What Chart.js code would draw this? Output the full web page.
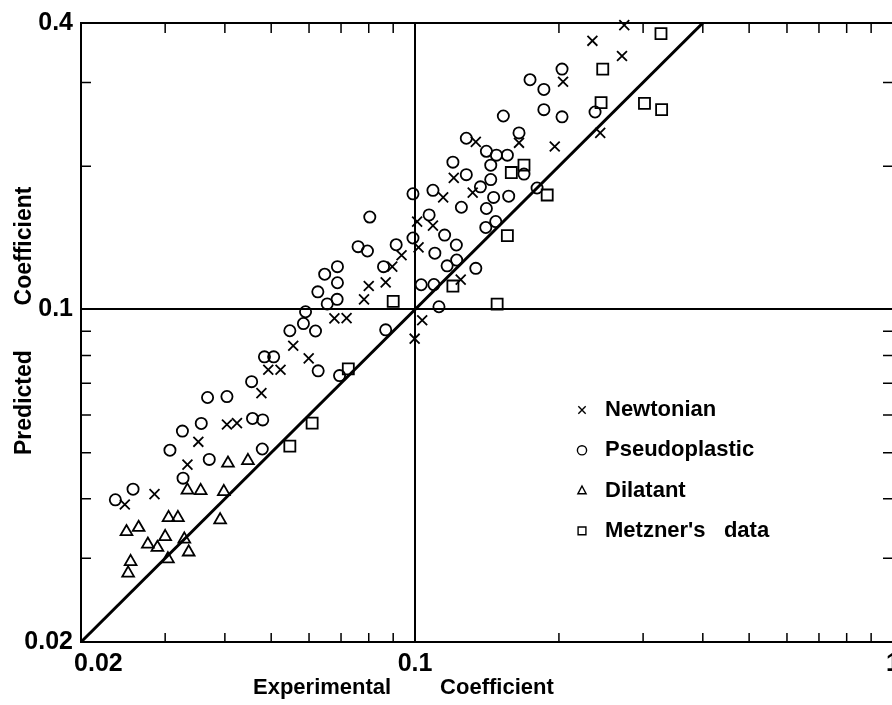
<!DOCTYPE html>
<html>
<head>
<meta charset="utf-8">
<script src="https://cdn.jsdelivr.net/npm/chart.js@4.4.1/dist/chart.umd.min.js"></script>
<style>
  html, body { margin: 0; padding: 0; background: #fff; overflow: hidden; }
  #wrap { width: 920px; height: 705px; }
</style>
</head>
<body>
<div id="wrap"><canvas id="chart" width="920" height="705"></canvas></div>
<script>
// axis ticks
const xMajorTicks = [0.02, 0.1, 1];
const xTickLabels = ["     0.02", "0.1", "1"];
const xMinorTicks = [0.03, 0.04, 0.05, 0.06, 0.07, 0.08, 0.09, 0.2, 0.3, 0.4, 0.5, 0.6, 0.7, 0.8, 0.9];
const yMajorTicks = [0.02, 0.1, 0.4];
const yTickLabels = ["0.02", "0.1", "0.4"];
const yMinorTicks = [0.03, 0.04, 0.05, 0.06, 0.07, 0.08, 0.09, 0.2, 0.3];

const xTitle = "Experimental        Coefficient";
const yTitle = "Predicted       Coefficient";

// Newtonian
const newtonianX = [0.274, 0.235, 0.271, 0.204, 0.244, 0.165, 0.196, 0.134, 0.1205, 0.132, 0.1145, 0.101, 0.109, 0.1017, 0.0937, 0.0896, 0.0868, 0.0800, 0.0782, 0.1246, 0.1035, 0.0998, 0.0678, 0.0719, 0.0556, 0.0599, 0.0493, 0.0523, 0.0477, 0.0404, 0.0424, 0.0352, 0.0334, 0.0285, 0.0247];
const newtonianY = [0.396, 0.367, 0.341, 0.301, 0.235, 0.224, 0.220, 0.225, 0.189, 0.176, 0.172, 0.153, 0.150, 0.135, 0.130, 0.123, 0.114, 0.112, 0.105, 0.1155, 0.0949, 0.0868, 0.0958, 0.0959, 0.0839, 0.0789, 0.0747, 0.0747, 0.0667, 0.0573, 0.0577, 0.0527, 0.0472, 0.0409, 0.0389];

// Pseudoplastic
const pseudoX = [0.203, 0.174, 0.186, 0.186, 0.203, 0.153, 0.238, 0.165, 0.128, 0.141,
  0.148, 0.156, 0.120, 0.144, 0.128, 0.169, 0.144, 0.137, 0.109, 0.099,
  0.146, 0.157, 0.180, 0.125, 0.141, 0.107, 0.1475, 0.1406, 0.1153, 0.099,
  0.0913, 0.122, 0.110, 0.1222, 0.1167, 0.0859, 0.134, 0.103, 0.1095, 0.1122,
  0.0868, 0.0804, 0.076, 0.0795, 0.0688, 0.0647, 0.0688, 0.0626, 0.0655, 0.0687,
  0.059, 0.0584, 0.0547, 0.0619, 0.0484, 0.0506, 0.0627, 0.0695, 0.0455, 0.0457,
  0.048, 0.0368, 0.0404, 0.0357, 0.0326, 0.0307, 0.0371, 0.0479, 0.0327, 0.0257,
  0.0236];
const pseudoY = [0.320, 0.304, 0.290, 0.263, 0.254, 0.255, 0.260, 0.235, 0.229, 0.215,
  0.211, 0.211, 0.204, 0.201, 0.192, 0.1925, 0.1875, 0.181, 0.178, 0.175,
  0.172, 0.173, 0.180, 0.164, 0.163, 0.158, 0.153, 0.1487, 0.1433, 0.1413,
  0.1368, 0.1366, 0.1313, 0.127, 0.1235, 0.123, 0.122, 0.1127, 0.1128, 0.1013,
  0.0906, 0.1564, 0.1355, 0.1327, 0.123, 0.1186, 0.1138, 0.1089, 0.1027, 0.105,
  0.0989, 0.0934, 0.0902, 0.0901, 0.0795, 0.0795, 0.0743, 0.0726, 0.0705, 0.059,
  0.0586, 0.0653, 0.0656, 0.0576, 0.0555, 0.0506, 0.0484, 0.0509, 0.0442, 0.0419,
  0.0398];

// Dilatant
const dilatantX = [0.0406, 0.0447, 0.0334, 0.0356, 0.0398, 0.0305, 0.0319, 0.0391, 0.0249, 0.0264, 0.0300, 0.0276, 0.0289, 0.0329, 0.0336, 0.0304, 0.0254, 0.0251];
const dilatantY = [0.0475, 0.0481, 0.0417, 0.0416, 0.0414, 0.0365, 0.0365, 0.0361, 0.0341, 0.0348, 0.0333, 0.0321, 0.0316, 0.0329, 0.0309, 0.0299, 0.0295, 0.0279];

// Metzner's data
const metznerX = [0.327, 0.247, 0.245, 0.302, 0.328, 0.169, 0.159, 0.189, 0.156, 0.120, 0.1485, 0.0900, 0.0725, 0.0609, 0.0547];
const metznerY = [0.380, 0.320, 0.272, 0.271, 0.263, 0.201, 0.194, 0.174, 0.143, 0.112, 0.1026, 0.104, 0.0750, 0.0577, 0.0516];

// predicted = experimental
const lineX = [0.02, 0.4];
const lineY = [0.02, 0.4];

const FONT = '"Liberation Sans", Arial, sans-serif';

function pts(xs, ys) {
  return xs.map((x, i) => ({ x: x, y: ys[i] }));
}

function drawMarker(ctx, style, x, y, r) {
  ctx.beginPath();
  if (style === "crossRot") {
    const d = r * 0.8;
    ctx.moveTo(x - d, y - d); ctx.lineTo(x + d, y + d);
    ctx.moveTo(x + d, y - d); ctx.lineTo(x - d, y + d);
  } else if (style === "circle") {
    ctx.arc(x, y, r, 0, Math.PI * 2);
  } else if (style === "triangle") {
    ctx.moveTo(x, y - r);
    ctx.lineTo(x + r * 0.9, y + r * 0.7);
    ctx.lineTo(x - r * 0.9, y + r * 0.7);
    ctx.closePath();
  } else if (style === "rect") {
    ctx.rect(x - r * 0.85, y - r * 0.85, r * 1.7, r * 1.7);
  }
  ctx.stroke();
}

const framePlugin = {
  id: "frame",
  afterDraw(chart) {
    const { ctx, chartArea: a, scales } = chart;
    ctx.save();
    ctx.strokeStyle = "#000";
    ctx.fillStyle = "#000";

    // box
    ctx.lineWidth = 2;
    ctx.strokeRect(a.left, a.top, a.right - a.left, a.bottom - a.top);

    // inward minor ticks on all four sides
    ctx.lineWidth = 1.5;
    ctx.beginPath();
    xMinorTicks.forEach(v => {
      const px = scales.x.getPixelForValue(v);
      ctx.moveTo(px, a.bottom); ctx.lineTo(px, a.bottom - 9);
      ctx.moveTo(px, a.top); ctx.lineTo(px, a.top + 10);
    });
    yMinorTicks.forEach(v => {
      const py = scales.y.getPixelForValue(v);
      ctx.moveTo(a.left, py); ctx.lineTo(a.left + 10, py);
      ctx.moveTo(a.right, py); ctx.lineTo(a.right - 10, py);
    });
    ctx.stroke();

    // axis titles
    ctx.font = "bold 22px " + FONT;
    ctx.textAlign = "left";
    ctx.textBaseline = "alphabetic";
    ctx.fillText(xTitle, 253, 694);

    ctx.save();
    ctx.font = "bold 23px " + FONT;
    ctx.translate(31, 455);
    ctx.rotate(-Math.PI / 2);
    ctx.fillText(yTitle, 0, 0);
    ctx.restore();

    // legend
    ctx.font = "bold 22px " + FONT;
    ctx.textBaseline = "middle";
    let row = 0;
    chart.data.datasets.forEach(ds => {
      if (!ds.label) return;
      const y = 410 + row * 40.3;
      ctx.lineWidth = 1.4;
      drawMarker(ctx, ds.pointStyle, 582, y, 4.6);
      ctx.fillText(ds.label, 605, y);
      row++;
    });

    ctx.restore();
  }
};

const markerBase = {
  pointBorderColor: "#000",
  pointBackgroundColor: "rgba(0,0,0,0)",
  pointBorderWidth: 1.8,
  clip: false
};

new Chart(document.getElementById("chart"), {
  type: "scatter",
  data: {
    datasets: [
      Object.assign({ label: "Newtonian", data: pts(newtonianX, newtonianY), pointStyle: "crossRot", pointRadius: 7 }, markerBase),
      Object.assign({ label: "Pseudoplastic", data: pts(pseudoX, pseudoY), pointStyle: "circle", pointRadius: 5.6 }, markerBase),
      Object.assign({ label: "Dilatant", data: pts(dilatantX, dilatantY), pointStyle: "triangle", pointRadius: 6.8 }, markerBase),
      Object.assign({ label: "Metzner's   data", data: pts(metznerX, metznerY), pointStyle: "rect", pointRadius: 7.8 }, markerBase),
      {
        data: pts(lineX, lineY),
        showLine: true,
        borderColor: "#000",
        borderWidth: 3,
        pointRadius: 0
      }
    ]
  },
  options: {
    responsive: false,
    animation: false,
    devicePixelRatio: 1,
    layout: { padding: { top: 17, right: 27, left: 0, bottom: 0 } },
    plugins: {
      legend: { display: false },
      tooltip: { enabled: false }
    },
    scales: {
      x: {
        type: "logarithmic",
        min: 0.02,
        max: 1,
        afterBuildTicks(scale) { scale.ticks = xMajorTicks.map(v => ({ value: v })); },
        afterFit(scale) { scale.height = 63; },
        ticks: {
          callback: (v, i) => xTickLabels[i],
          color: "#000",
          font: { family: FONT, size: 25, weight: "bold" },
          padding: 7,
          maxRotation: 0,
          autoSkip: false
        },
        grid: { color: "#000", lineWidth: 2, drawTicks: false },
        border: { display: true, color: "#000", width: 2 }
      },
      y: {
        type: "logarithmic",
        min: 0.02,
        max: 0.4,
        afterBuildTicks(scale) { scale.ticks = yMajorTicks.map(v => ({ value: v })); },
        afterFit(scale) { scale.width = 81; },
        ticks: {
          callback: (v, i) => yTickLabels[i],
          color: "#000",
          font: { family: FONT, size: 25, weight: "bold" },
          padding: 8,
          autoSkip: false
        },
        grid: { color: "#000", lineWidth: 2, drawTicks: false },
        border: { display: true, color: "#000", width: 2 }
      }
    }
  },
  plugins: [framePlugin]
});
</script>
</body>
</html>
